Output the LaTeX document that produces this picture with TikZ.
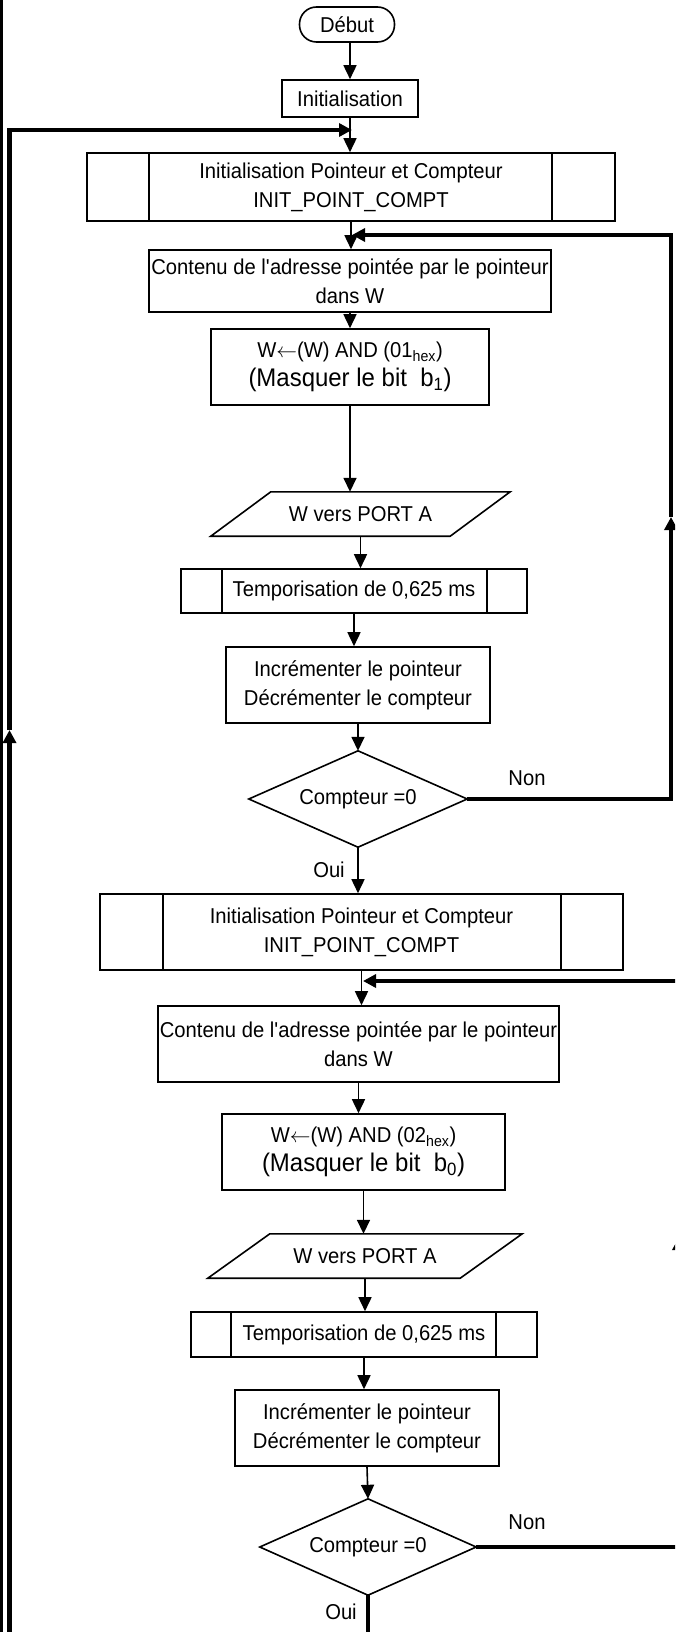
\documentclass[tikz,border=0pt]{standalone}
\usepackage{fontspec}
\setmainfont{Liberation Sans}[FakeStretch=0.94]
\usetikzlibrary{arrows.meta,calc}
\begin{document}
\begin{tikzpicture}[x=1pt,y=-1pt,
  font=\fontsize{21.5}{29}\selectfont,
  box/.style={draw,line width=1.6pt,inner sep=0pt,align=center},
  ghost/.style={inner sep=0pt,align=center},
  edge/.style={line width=1.6pt},
  flow/.style={line width=1.6pt,-{Triangle[length=14pt,width=13pt]}},
  loopline/.style={line width=4.5pt},
  looparr/.style={line width=4.5pt,-{Triangle[length=13pt,width=13pt]}},
  lbl/.style={inner sep=0pt}]
\useasboundingbox (0,0) rectangle (675,1632);
\clip (0,0) rectangle (675,1632);
\fill[white] (0,0) rectangle (675,1632);

% ---------- first pass ----------
\node[box,rounded corners=17pt,minimum width=95pt,minimum height=35pt] (debut) at (347,24.5) {Début};
\node[box,minimum width=136pt,minimum height=37pt] (init) at (350,98.5) {Initialisation};
\node[box,minimum width=528pt,minimum height=68pt] (ipc1) at (351,187)
  {Initialisation Pointeur et Compteur\\INIT\_POINT\_COMPT};
\draw[edge] ([xshift=63pt]ipc1.north west) -- ([xshift=63pt]ipc1.south west);
\draw[edge] ([xshift=-64pt]ipc1.north east) -- ([xshift=-64pt]ipc1.south east);
\node[box,minimum width=402pt,minimum height=62pt] (cont1) at (350,281)
  {Contenu de l\textquotesingle adresse pointée par le pointeur\\dans W};
\node[box,minimum width=278pt,minimum height=76pt] (w1) at (350,367)
  {W$\leftarrow$(W) AND (01\textsubscript{hex})\\{\fontsize{25.5}{29}\selectfont (Masquer le bit~~b\textsubscript{1})}};
\node[ghost,minimum width=299pt,minimum height=44pt] (para1) at (360.5,514) {W vers PORT A};
\draw[edge] ([xshift=60pt]para1.north west) -- (para1.north east)
  -- ([xshift=-60pt]para1.south east) -- (para1.south west) -- cycle;
\node[box,minimum width=346pt,minimum height=44pt] (temp1) at (354,591) {Temporisation de 0,625 ms};
\draw[edge] ([xshift=42pt]temp1.north west) -- ([xshift=42pt]temp1.south west);
\draw[edge] ([xshift=-41pt]temp1.north east) -- ([xshift=-41pt]temp1.south east);
\node[box,minimum width=264pt,minimum height=76pt] (inc1) at (358,685)
  {Incrémenter le pointeur\\Décrémenter le compteur};
\node[ghost,minimum width=218pt,minimum height=96pt] (dia1) at (358,799) {Compteur =0};
\draw[edge] (dia1.north) -- (dia1.east) -- (dia1.south) -- (dia1.west) -- cycle;
\node[lbl] (non1) at (527,778) {Non};
\node[lbl] (oui1) at (329,870) {Oui};

% ---------- second pass ----------
\node[box,minimum width=523pt,minimum height=76pt] (ipc2) at (361.5,932)
  {Initialisation Pointeur et Compteur\\INIT\_POINT\_COMPT};
\draw[edge] ([xshift=64pt]ipc2.north west) -- ([xshift=64pt]ipc2.south west);
\draw[edge] ([xshift=-63pt]ipc2.north east) -- ([xshift=-63pt]ipc2.south east);
\node[box,minimum width=401pt,minimum height=76pt] (cont2) at (358.5,1044)
  {Contenu de l\textquotesingle adresse pointée par le pointeur\\dans W};
\node[box,minimum width=283pt,minimum height=76pt] (w2) at (363.5,1152)
  {W$\leftarrow$(W) AND (02\textsubscript{hex})\\{\fontsize{25.5}{29}\selectfont (Masquer le bit~~b\textsubscript{0})}};
\node[ghost,minimum width=314pt,minimum height=44pt] (para2) at (365,1256) {W vers PORT A};
\draw[edge] ([xshift=62pt]para2.north west) -- (para2.north east)
  -- ([xshift=-62pt]para2.south east) -- (para2.south west) -- cycle;
\node[box,minimum width=346pt,minimum height=45pt] (temp2) at (364,1334.5) {Temporisation de 0,625 ms};
\draw[edge] ([xshift=41pt]temp2.north west) -- ([xshift=41pt]temp2.south west);
\draw[edge] ([xshift=-42pt]temp2.north east) -- ([xshift=-42pt]temp2.south east);
\node[box,minimum width=264pt,minimum height=76pt] (inc2) at (367,1428)
  {Incrémenter le pointeur\\Décrémenter le compteur};
\node[ghost,minimum width=216pt,minimum height=96pt] (dia2) at (368,1547) {Compteur =0};
\draw[edge] (dia2.north) -- (dia2.east) -- (dia2.south) -- (dia2.west) -- cycle;
\node[lbl] (non2) at (527,1522) {Non};
\node[lbl] (oui2) at (341,1612) {Oui};

% ---------- main flow ----------
\draw[flow] (init.north |- debut.south) -- (init.north);
\draw[flow] (init.south) -- (init.south |- ipc1.north);
\draw[flow] (ipc1.south) -- (ipc1.south |- cont1.north);
\draw[flow] (cont1.south) -- (cont1.south |- w1.north);
\draw[flow] (w1.south) -- (w1.south |- para1.north);
\draw[flow] (para1.south) -- (para1.south |- temp1.north);
\draw[flow] (temp1.south) -- (temp1.south |- inc1.north);
\draw[flow] (inc1.south) -- (dia1.north);
\draw[flow] (dia1.south) -- (dia1.south |- ipc2.north);
\draw[flow] (ipc2.south) -- (ipc2.south |- cont2.north);
\draw[flow] (cont2.south) -- (cont2.south |- w2.north);
\draw[flow] (w2.south) -- (w2.south |- para2.north);
\draw[flow] (para2.south) -- (para2.south |- temp2.north);
\draw[flow] (temp2.south) -- (temp2.south |- inc2.north);
\draw[flow] (inc2.south) -- (dia2.north);
\coordinate (ouiend) at (368,1660);
\draw[loopline] (dia2.south) -- (ouiend);

% ---------- page edge ----------
\draw[line width=3pt] (1.5,-10) -- (1.5,1660);

% ---------- outer loop (left) ----------
\coordinate (la0) at (9.5,1660);
\coordinate (la1) at (9.5,730);
\coordinate (la2) at (9.5,130);
\coordinate (la3) at (352,130);
\draw[looparr] (la0) -- (la1);
\draw[looparr] (la1) -- (la2) -- (la3);

% ---------- loop 1 (right) ----------
\coordinate (lb1) at (671,799);
\coordinate (lb2) at (671,517);
\coordinate (lb3) at (671,235);
\coordinate (lb4) at (352,235);
\draw[looparr] (dia1.east) -- (lb1) -- (lb2);
\draw[looparr] (lb2) -- (lb3) -- (lb4);

% ---------- loop 2 (right, off page) ----------
\coordinate (lc1) at (679,1547);
\coordinate (lc2) at (679,1237);
\coordinate (lc3) at (679,981);
\coordinate (lc4) at (363,981);
\draw[looparr] (dia2.east) -- (lc1) -- (lc2);
\draw[looparr] (lc2) -- (lc3) -- (lc4);
\end{tikzpicture}
\end{document}
